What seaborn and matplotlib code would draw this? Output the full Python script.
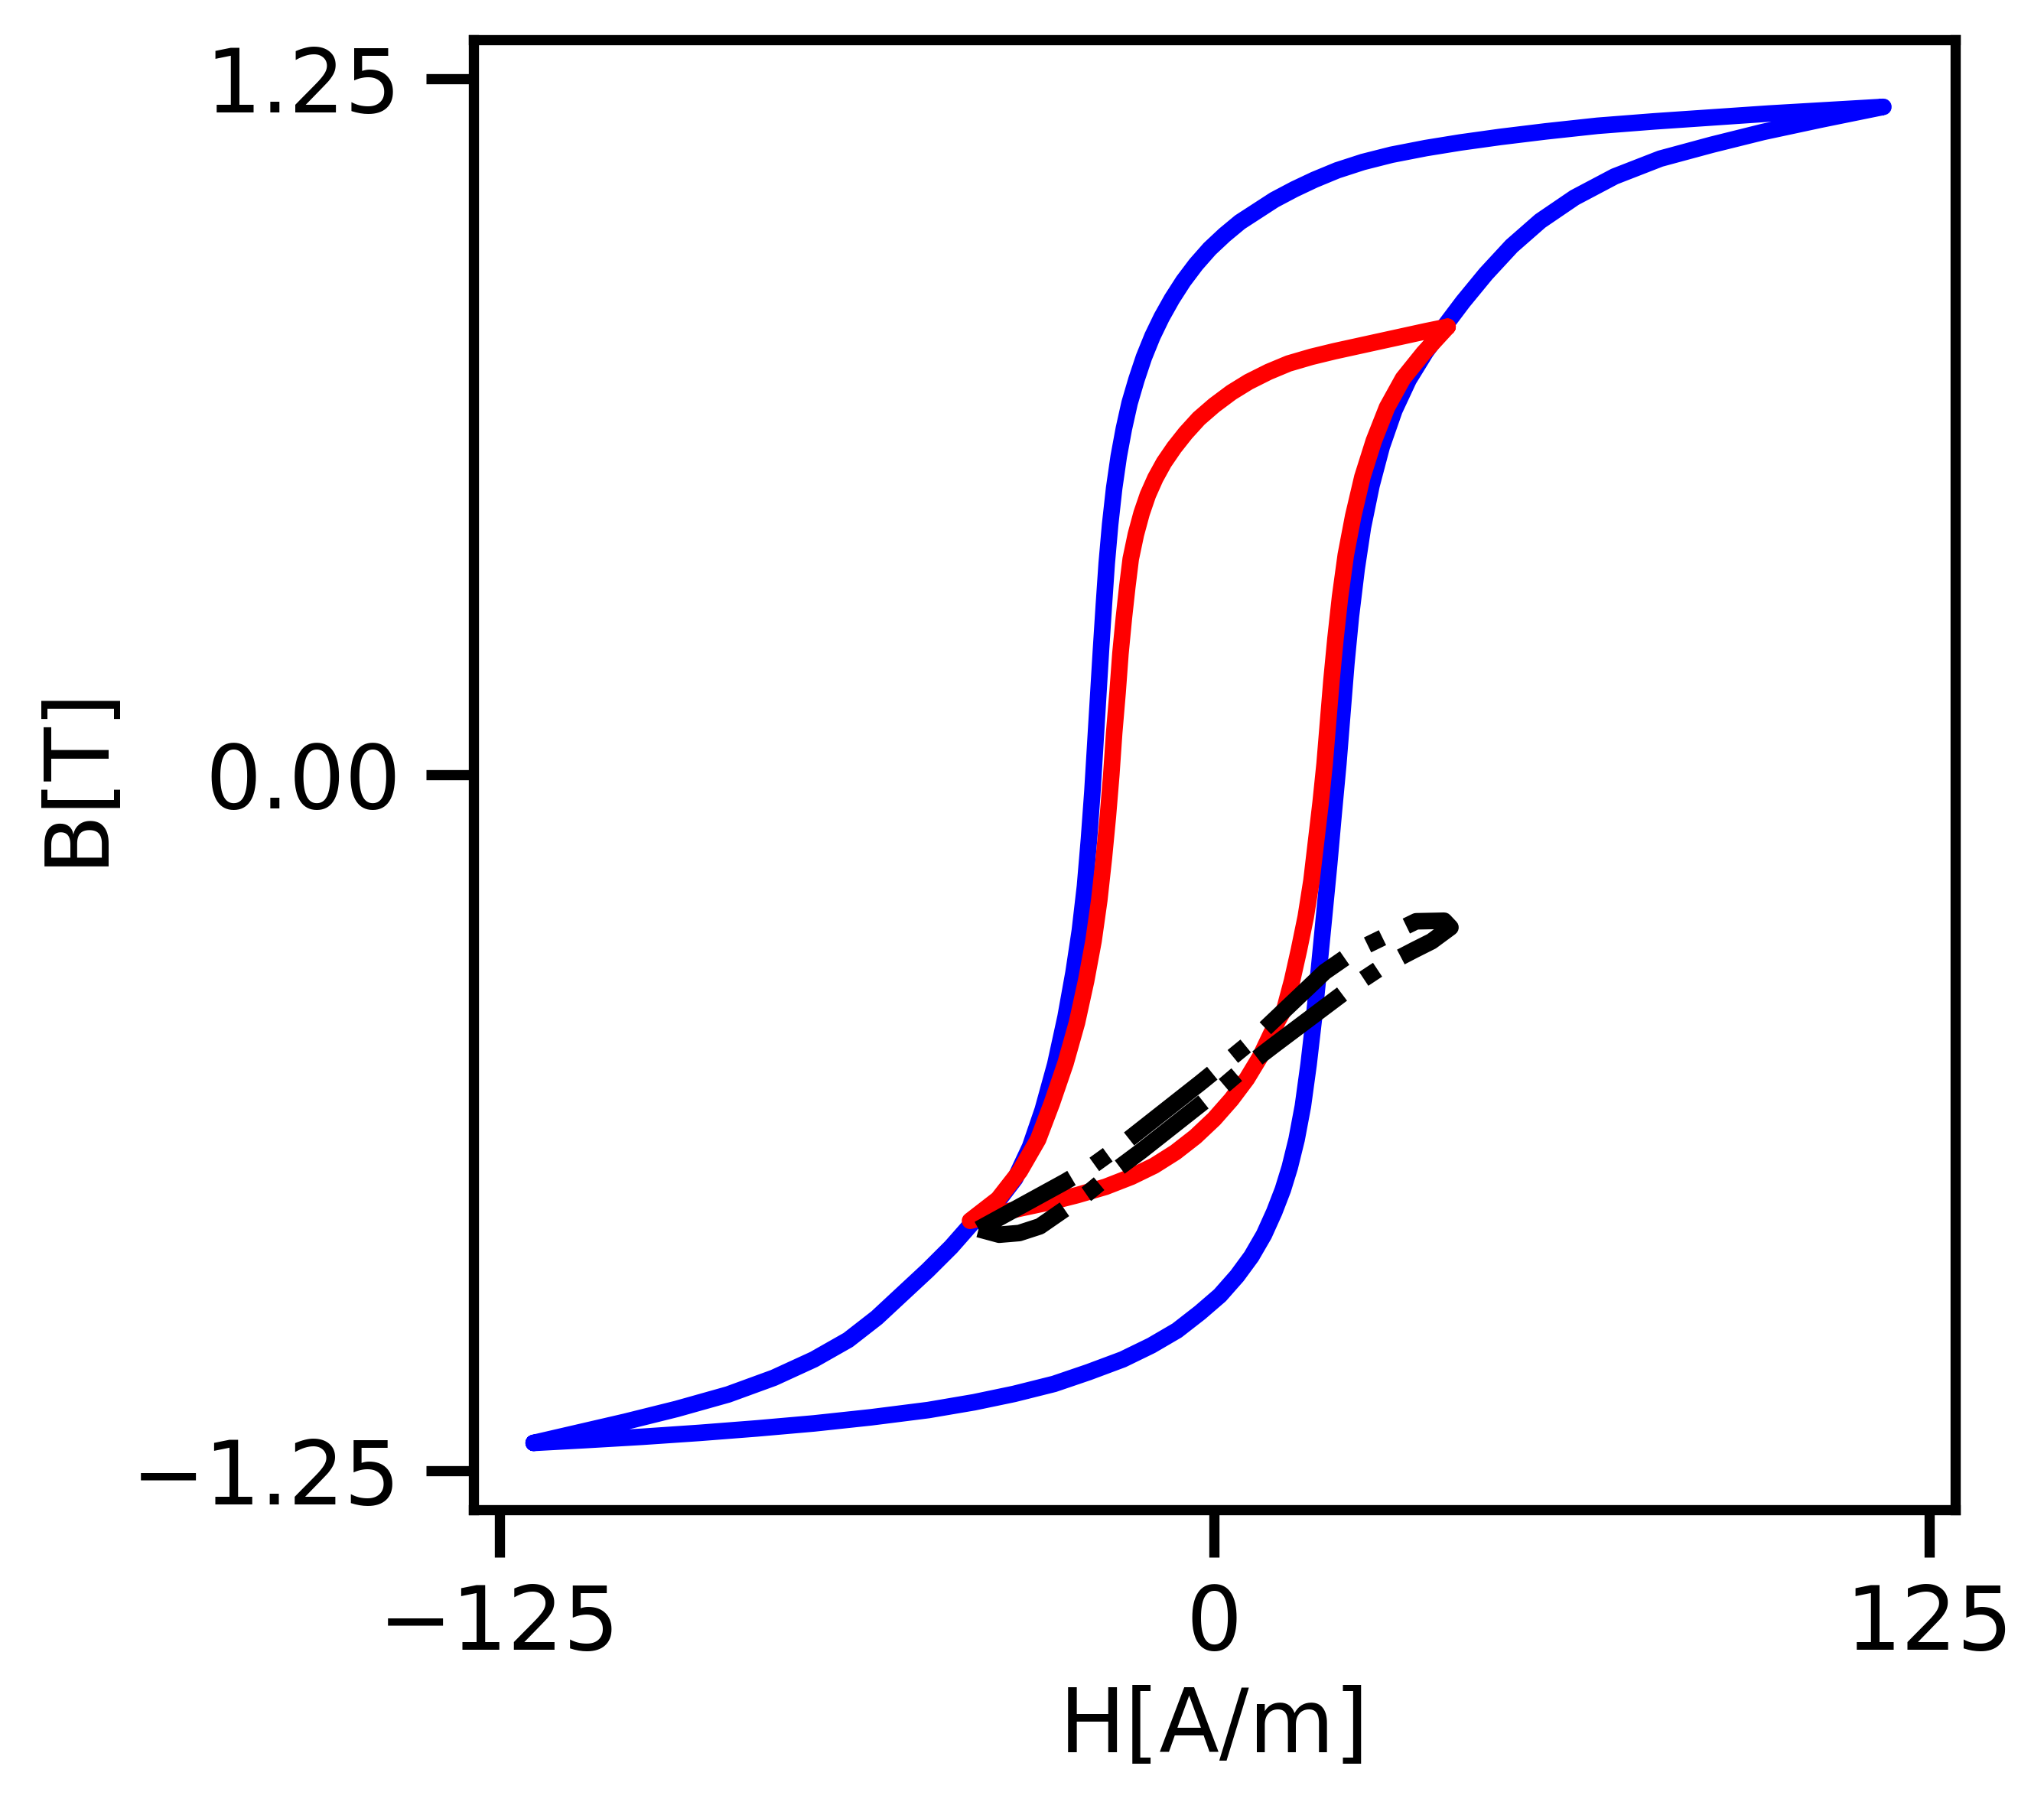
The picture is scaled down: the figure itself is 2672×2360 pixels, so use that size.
import pandas as pd
import seaborn as sns
import matplotlib.pyplot as plt

# major loop (blue): rising branch, then falling branch
major_up_h = [-119, -110, -100, -90, -80, -70, -60, -50, -42, -35, -28, -22, -16, -11,
              -6.5, -2.5, 1, 4, 6.5, 8.7, 10.5, 12.0, 13.2, 14.4, 15.5, 16.5, 17.4,
              18.3, 19.2, 20.1, 20.9, 21.7, 22.4, 23.1, 23.9, 24.9, 26.0, 27.5, 29.3,
              31.5, 34.0, 37.0, 40.2, 43.5, 47.5, 52, 57, 63, 70, 78, 87, 96, 106, 117]
major_up_b = [-1.200, -1.195, -1.189, -1.182, -1.174, -1.165, -1.154, -1.141, -1.127,
              -1.112, -1.094, -1.073, -1.050, -1.025, -0.998, -0.966, -0.935, -0.900,
              -0.865, -0.826, -0.785, -0.745, -0.705, -0.655, -0.595, -0.520, -0.440,
              -0.350, -0.255, -0.160, -0.068, 0.020, 0.110, 0.200, 0.285, 0.370, 0.445,
              0.520, 0.590, 0.655, 0.710, 0.760, 0.805, 0.850, 0.900, 0.950, 0.995,
              1.037, 1.075, 1.107, 1.132, 1.155, 1.177, 1.200]
major_down_h = [117, 107, 97, 87, 77, 67, 58, 50, 43, 37, 31, 26, 21.5, 17.5, 14, 10.5,
                7.5, 4.5, 1.8, -0.8, -3.2, -5.4, -7.4, -9.2, -10.8, -12.3, -13.6, -14.8,
                -15.8, -16.7, -17.5, -18.2, -18.8, -19.3, -19.8, -20.3, -20.8, -21.3,
                -21.9, -22.6, -23.5, -24.6, -26.0, -27.8, -30.0, -32.2, -34.8, -38.0,
                -42.4, -46, -50.1, -54.5, -59, -64, -70, -77, -85, -94, -103, -111, -119]
major_down_b = [1.200, 1.194, 1.188, 1.181, 1.174, 1.166, 1.156, 1.146, 1.136, 1.126,
                1.114, 1.101, 1.086, 1.069, 1.052, 1.033, 1.013, 0.993, 0.970, 0.945,
                0.917, 0.887, 0.855, 0.822, 0.788, 0.750, 0.710, 0.668, 0.622, 0.572,
                0.515, 0.450, 0.380, 0.305, 0.225, 0.140, 0.055, -0.030, -0.115, -0.200,
                -0.280, -0.355, -0.435, -0.520, -0.602, -0.668, -0.725, -0.768, -0.806,
                -0.848, -0.890, -0.932, -0.975, -1.015, -1.050, -1.083, -1.113, -1.139,
                -1.162, -1.181, -1.200]

# minor loop (red): falling branch from the upper tip, then rising branch
minor_down_h = [40.8, 37, 33, 29, 25, 21, 17, 13, 9.5, 6, 3, 0, -2.7, -5.0, -7.0, -8.8,
                -10.3, -11.6, -12.7, -13.7, -14.6, -15.2, -15.8, -16.4, -16.9, -17.5,
                -18.0, -18.6, -19.3, -20.1, -21.1, -22.4, -24.0, -26.0, -28.4, -30.8,
                -34.0, -37.8, -42.7]
minor_down_b = [0.805, 0.797, 0.788, 0.779, 0.770, 0.761, 0.751, 0.739, 0.724, 0.706,
                0.687, 0.664, 0.640, 0.614, 0.588, 0.561, 0.533, 0.503, 0.470, 0.432,
                0.388, 0.338, 0.282, 0.218, 0.148, 0.075, 0.000, -0.075, -0.150, -0.225,
                -0.298, -0.370, -0.445, -0.518, -0.590, -0.655, -0.712, -0.762, -0.801]
minor_up_h = [-42.7, -38.5, -34, -29, -24, -19, -14.5, -10.5, -6.8, -3.3, 0, 3, 5.7,
              8.0, 9.9, 11.2, 12.3, 13.6, 14.8, 16.0, 17.0, 17.8, 18.6, 19.3, 19.9,
              20.5, 21.2, 22.0, 23.0, 24.3, 25.9, 27.9, 30.2, 33.0, 36.6, 40.8]
minor_up_b = [-0.801, -0.790, -0.779, -0.768, -0.755, -0.740, -0.722, -0.702, -0.678,
              -0.650, -0.618, -0.583, -0.546, -0.507, -0.466, -0.440, -0.420, -0.370,
              -0.315, -0.255, -0.190, -0.120, -0.050, 0.020, 0.095, 0.170, 0.245,
              0.320, 0.395, 0.465, 0.535, 0.600, 0.660, 0.712, 0.758, 0.805]

# small loop (black, dash-dot): upper branch out to the right tip, lower branch back
small_top_h = [-41.2, -26.1, -21.0, -16.0, -2.4, 2.4, 6.8, 19.3, 24.5, 30.3, 35.3,
               40.2, 41.3]
small_top_b = [-0.816, -0.731, -0.700, -0.663, -0.553, -0.513, -0.476, -0.354, -0.317,
               -0.288, -0.263, -0.262, -0.274]
small_bottom_h = [41.3, 38.0, 34.9, 29.3, 24.0, 10.4, 5.7, 0.9, -12.8, -17.5, -22.2,
                  -30.5, -34.1, -37.6, -41.2]
small_bottom_b = [-0.274, -0.299, -0.315, -0.345, -0.381, -0.486, -0.523, -0.565,
                  -0.676, -0.712, -0.752, -0.811, -0.823, -0.826, -0.816]

x_ticks = [-125, 0, 125]
y_ticks = [-1.25, 0.0, 1.25]

major = pd.DataFrame({'H': major_up_h + major_down_h, 'B': major_up_b + major_down_b})
minor = pd.DataFrame({'H': minor_down_h + minor_up_h, 'B': minor_down_b + minor_up_b})
small = pd.DataFrame({'H': small_top_h + small_bottom_h, 'B': small_top_b + small_bottom_b})

sns.set_style('ticks')
plt.rcParams['font.family'] = ['DejaVu Sans']
plt.rcParams['font.size'] = 20.7
plt.rcParams['text.color'] = 'black'
plt.rcParams['axes.labelcolor'] = 'black'

fig = plt.figure(figsize=(6.68, 5.9), dpi=400)
ax = fig.add_axes([0.2317, 0.1636, 0.7247, 0.8142])

lw = 3.9
sns.lineplot(data=major, x='H', y='B', sort=False, estimator=None, color='blue',
             linewidth=lw, ax=ax)
sns.lineplot(data=minor, x='H', y='B', sort=False, estimator=None, color='red',
             linewidth=lw, ax=ax)
sns.lineplot(data=small, x='H', y='B', sort=False, estimator=None, color='black',
             linewidth=lw, linestyle='-.', ax=ax)

ax.set_xlim(-129.5, 129.5)
ax.set_ylim(-1.32, 1.32)
ax.set_xticks(x_ticks)
ax.set_yticks(y_ticks)
ax.set_xlabel('H[A/m]', fontsize=20.7, labelpad=4, color='black')
ax.set_ylabel('B[T]', fontsize=20.7, labelpad=3, color='black')
ax.tick_params(axis='both', labelsize=20.7, length=11.2, width=2.4, pad=5.9,
               color='black', labelcolor='black')
for sp in ax.spines.values():
    sp.set_linewidth(2.4)
    sp.set_color('black')

fig.savefig('out.png', dpi=400)
